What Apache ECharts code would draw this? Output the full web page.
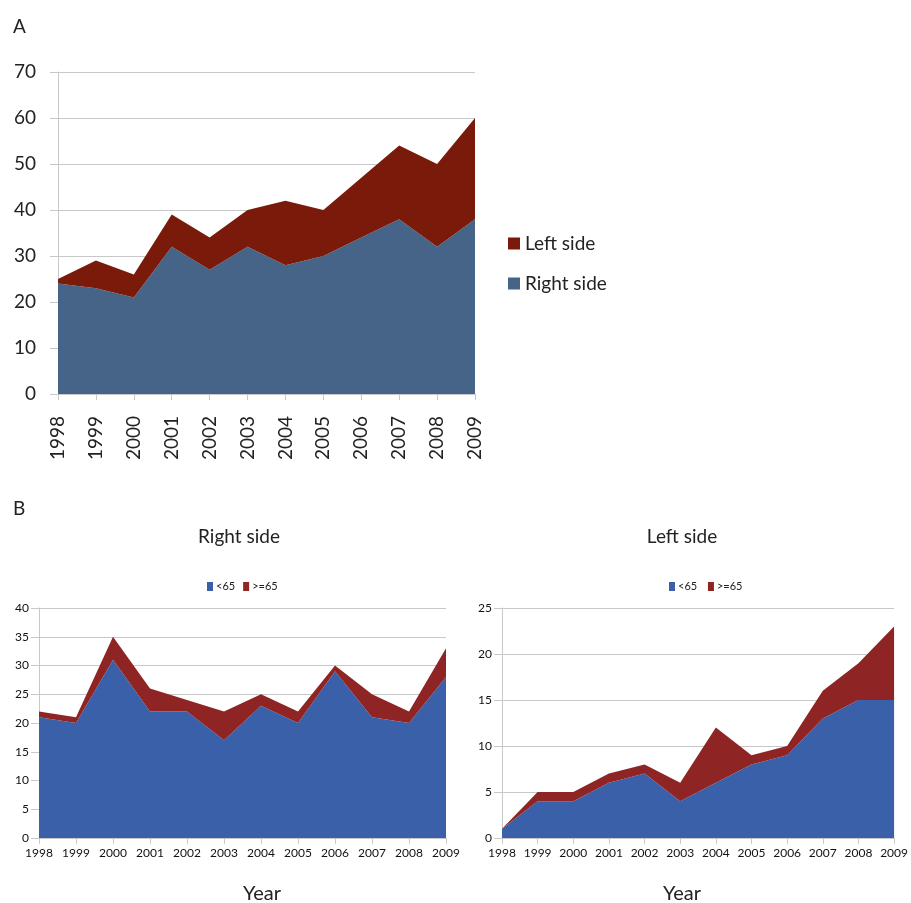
<!DOCTYPE html>
<html>
<head>
<meta charset="utf-8">
<script src="https://cdn.jsdelivr.net/npm/echarts@6/dist/echarts.min.js"></script>
<style>
  html, body { margin: 0; padding: 0; background: #fff; }
  #chart { width: 911px; height: 903px; }
</style>
</head>
<body>
<div id="chart"></div>
<script>
// Years shared by every panel
const years = ['1998','1999','2000','2001','2002','2003','2004','2005','2006','2007','2008','2009'];

// Panel A: cases by side (stacked)
const rightSide = [24, 23, 21, 32, 27, 32, 28, 30, 34, 38, 32, 38];
const leftSide  = [1, 6, 5, 7, 7, 8, 14, 10, 13, 16, 18, 22];

// Panel B, right side: by age group
const rightUnder65 = [21, 20, 31, 22, 22, 17, 23, 20, 29, 21, 20, 28];
const rightOver65  = [1, 1, 4, 4, 2, 5, 2, 2, 1, 4, 2, 5];

// Panel B, left side: by age group
const leftUnder65 = [1, 4, 4, 6, 7, 4, 6, 8, 9, 13, 15, 15];
const leftOver65  = [0, 1, 1, 1, 1, 2, 6, 1, 1, 3, 4, 8];

const FONT = 'Lato, "Open Sans", sans-serif';
const A_BLUE = '#456488', A_RED = '#7A1A0A';
const B_BLUE = '#3B60AA', B_RED = '#8E2424';
const GRID_GRAY = '#c8c8c8';

function areaSeries(name, data, color, axisIdx, stack) {
  return {
    name: name, type: 'line', stack: stack, data: data,
    xAxisIndex: axisIdx, yAxisIndex: axisIdx,
    symbol: 'none', lineStyle: { width: 0 },
    areaStyle: { color: color, opacity: 1 }, itemStyle: { color: color },
    emphasis: { disabled: true }
  };
}

function catAxis(gridIndex, labelOpts) {
  return {
    type: 'category', gridIndex: gridIndex, data: years, boundaryGap: false,
    axisLine: { lineStyle: { color: GRID_GRAY, width: 1 } },
    axisTick: { show: true, alignWithLabel: true, length: 6, lineStyle: { color: GRID_GRAY } },
    axisLabel: Object.assign({ color: '#222', fontFamily: FONT, interval: 0 }, labelOpts)
  };
}

function valAxis(gridIndex, max, interval, labelOpts) {
  return {
    type: 'value', gridIndex: gridIndex, min: 0, max: max, interval: interval,
    axisLine: { show: true, lineStyle: { color: GRID_GRAY, width: 1 } },
    axisTick: { show: true, length: 8, lineStyle: { color: GRID_GRAY } },
    splitLine: { lineStyle: { color: GRID_GRAY, width: 1 } },
    axisLabel: Object.assign({ color: '#222', fontFamily: FONT }, labelOpts)
  };
}

const chart = echarts.init(document.getElementById('chart'), null, { renderer: 'canvas' });

const titleStyle = (size) => ({ fontFamily: FONT, fontSize: size, fontWeight: 'normal', color: '#222' });

chart.setOption({
  animation: false,
  backgroundColor: '#fff',
  title: [
    { text: 'A', left: 8, top: 12, textStyle: titleStyle(19) },
    { text: 'B', left: 8, top: 494, textStyle: titleStyle(19) },
    { text: 'Right side', left: 234, top: 522, textAlign: 'center', textStyle: titleStyle(19) },
    { text: 'Left side', left: 677, top: 522, textAlign: 'center', textStyle: titleStyle(19) },
    { text: 'Year', left: 257, top: 879, textAlign: 'center', textStyle: titleStyle(20) },
    { text: 'Year', left: 677, top: 879, textAlign: 'center', textStyle: titleStyle(20) }
  ],
  legend: [
    {
      data: ['Left side', 'Right side'], orient: 'vertical', left: 503, top: 229,
      itemWidth: 12, itemHeight: 12, itemGap: 21, icon: 'rect',
      textStyle: { fontFamily: FONT, fontSize: 19, color: '#222' }
    },
    {
      data: ['<65', '>=65'], left: 202, top: 576, itemWidth: 6, itemHeight: 9, itemGap: 8, icon: 'rect',
      textStyle: { fontFamily: FONT, fontSize: 11, color: '#222', padding: [0, 0, 0, -2] }
    },
    {
      data: ['<65 ', '>=65 '], left: 664, top: 576, itemWidth: 6, itemHeight: 9, itemGap: 8, icon: 'rect',
      textStyle: { fontFamily: FONT, fontSize: 11, color: '#222', padding: [0, 0, 0, -2] }
    }
  ],
  grid: [
    { left: 58, top: 72, width: 417, height: 322 },
    { left: 39, top: 608, width: 407, height: 230 },
    { left: 502, top: 608, width: 398, height: 230 }
  ],
  xAxis: [
    catAxis(0, { rotate: 90, fontSize: 19, margin: 22 }),
    catAxis(1, { fontSize: 12, margin: 9, color: '#111' }),
    catAxis(2, { fontSize: 12, margin: 9, color: '#111' })
  ],
  yAxis: [
    valAxis(0, 70, 10, { fontSize: 19, margin: 22 }),
    valAxis(1, 40, 5, { fontSize: 12, margin: 10, color: '#111' }),
    valAxis(2, 25, 5, { fontSize: 12, margin: 10, color: '#111' })
  ],
  series: [
    areaSeries('Right side', rightSide, A_BLUE, 0, 'a'),
    areaSeries('Left side', leftSide, A_RED, 0, 'a'),
    areaSeries('<65', rightUnder65, B_BLUE, 1, 'br'),
    areaSeries('>=65', rightOver65, B_RED, 1, 'br'),
    areaSeries('<65 ', leftUnder65, B_BLUE, 2, 'bl'),
    areaSeries('>=65 ', leftOver65, B_RED, 2, 'bl')
  ]
});
</script>
</body>
</html>
